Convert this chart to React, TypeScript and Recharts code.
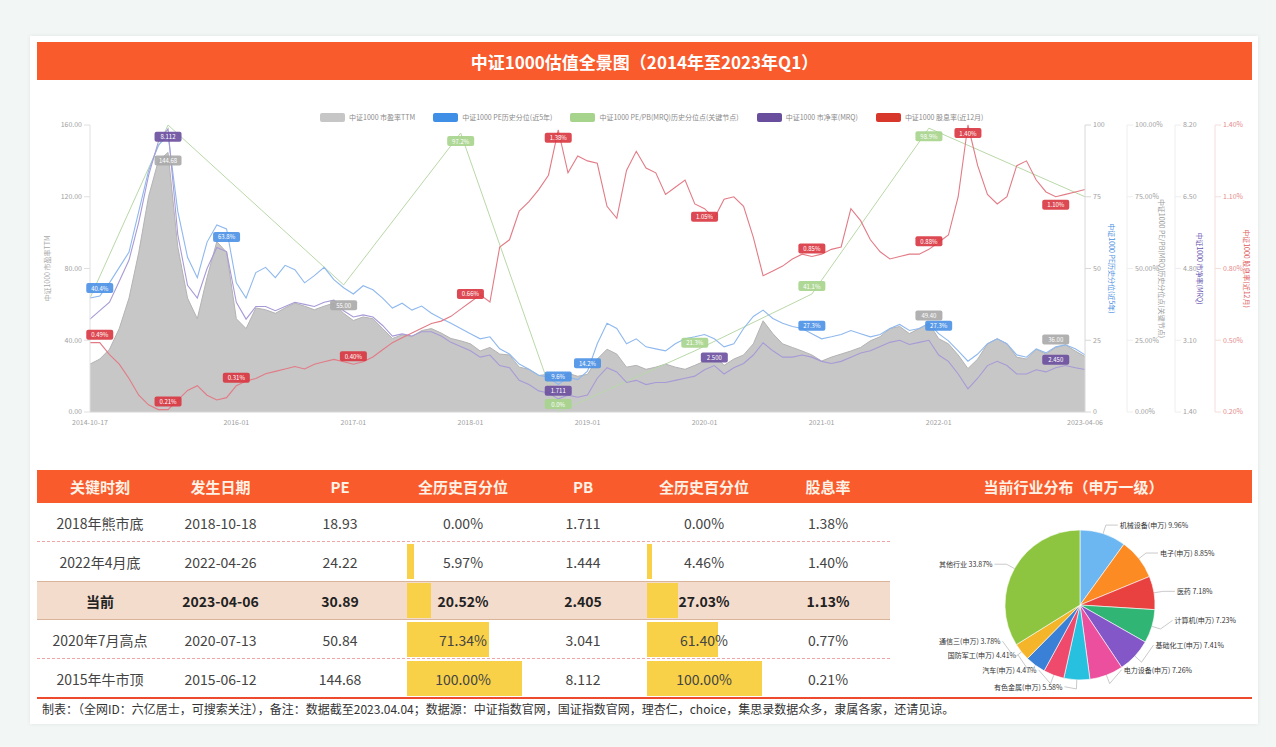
import React from "react";
import { Area, Cell, ComposedChart, Line, Pie, PieChart, XAxis, YAxis } from "recharts";

const FONT = '"Noto Sans CJK SC", "Noto Sans", sans-serif';
const ORANGE = "#f95b2c";

// monthly points from 2014-10 to 2023-04
const monthLabels = Array.from({ length: 103 }, (_, i) => {
  const t = 2014 * 12 + 9 + i;
  return `${Math.floor(t / 12)}-${String((t % 12) + 1).padStart(2, "0")}`;
});

const xTicks = [0, 15, 27, 39, 51, 63, 75, 87, 102];
const xTickLabels = ["2014-10-17", "2016-01", "2017-01", "2018-01", "2019-01", "2020-01", "2021-01", "2022-01", "2023-04-06"];

// 市盈率TTM
const peValues = [
  26.7, 29.5, 35.0, 46.5, 63.5, 89.0, 120.0, 140.0, 144.68, 92.0,
  63.5, 52.0, 75.0, 95.0, 89.0, 52.0, 46.5, 58.0, 57.0, 55.0,
  58.0, 60.7, 59.0, 57.0, 59.0, 60.7, 55.0, 51.0, 53.0, 52.0,
  46.5, 41.0, 43.0, 42.0, 45.4, 46.5, 44.0, 41.0, 39.7, 38.0,
  34.0, 36.0, 32.3, 31.8, 25.0, 23.8, 20.4, 21.0, 18.93, 21.6,
  19.9, 21.0, 29.5, 35.0, 32.3, 25.0, 26.0, 23.8, 25.0, 26.7,
  25.0, 23.8, 26.0, 28.4, 31.8, 26.0, 29.5, 31.8, 38.0, 50.84,
  43.7, 38.0, 36.0, 34.0, 31.8, 28.4, 30.6, 32.3, 34.0, 36.0,
  39.7, 42.0, 46.5, 47.7, 43.7, 46.5, 49.4, 40.9, 38.0, 31.8,
  24.22, 29.5, 38.0, 40.9, 38.0, 30.6, 29.5, 35.0, 32.3, 36.0,
  37.4, 34.0, 30.89,
];

// PE 历史分位 (%)
const pePctValues = [
  39.7, 40.4, 45.0, 50.4, 55.7, 69.9, 84.0, 92.9, 96.5, 69.9,
  53.9, 46.8, 59.2, 65.2, 63.8, 45.0, 39.7, 48.6, 50.4, 46.8,
  51.1, 49.6, 45.0, 47.5, 50.4, 46.1, 43.3, 41.1, 44.0, 42.6,
  39.7, 36.2, 37.9, 35.5, 36.9, 34.4, 32.6, 30.9, 29.1, 27.3,
  25.5, 26.2, 22.0, 20.2, 16.7, 14.9, 12.8, 12.1, 9.6, 12.1,
  11.3, 14.2, 23.8, 30.9, 29.1, 23.8, 25.5, 22.7, 22.0, 21.3,
  23.8, 25.5, 26.2, 27.0, 25.5, 22.7, 23.8, 29.1, 33.3, 35.5,
  32.6, 30.9, 29.8, 29.1, 27.3, 25.5, 26.2, 27.0, 28.4, 27.3,
  26.2, 27.0, 29.1, 30.5, 28.4, 29.1, 30.9, 27.3, 24.8, 21.3,
  17.7, 20.2, 23.8, 25.5, 23.8, 19.9, 19.1, 22.0, 20.6, 22.7,
  23.4, 22.0, 19.9,
];

// 市净率MRQ
const pbValues = [
  3.6, 3.8, 4.0, 4.5, 5.0, 5.9, 7.0, 7.8, 8.112, 5.6,
  4.4, 4.1, 4.8, 5.3, 5.2, 4.0, 3.6, 3.9, 3.9, 3.8,
  3.9, 4.0, 3.95, 3.9, 4.0, 4.05, 3.8, 3.65, 3.7, 3.65,
  3.45, 3.2, 3.25, 3.2, 3.3, 3.3, 3.2, 3.05, 2.95, 2.85,
  2.7, 2.75, 2.5, 2.45, 2.15, 2.05, 1.9, 1.85, 1.711, 1.8,
  1.75, 1.8, 2.2, 2.45, 2.35, 2.1, 2.15, 2.05, 2.1, 2.1,
  2.15, 2.2, 2.25, 2.4, 2.5, 2.3, 2.45, 2.55, 2.75, 3.041,
  2.85, 2.7, 2.7, 2.75, 2.7, 2.6, 2.55, 2.6, 2.7, 2.8,
  2.85, 2.95, 3.05, 3.1, 3.0, 3.05, 3.1, 2.75, 2.6, 2.3,
  1.95, 2.2, 2.5, 2.6, 2.5, 2.3, 2.3, 2.4, 2.35, 2.45,
  2.5, 2.45, 2.405,
];

// 股息率 (%)
const divValues = [
  0.49, 0.49, 0.44, 0.40, 0.34, 0.27, 0.23, 0.21, 0.21, 0.25,
  0.29, 0.31, 0.27, 0.25, 0.26, 0.31, 0.33, 0.34, 0.36, 0.37,
  0.38, 0.39, 0.38, 0.40, 0.41, 0.42, 0.41, 0.40, 0.41, 0.43,
  0.46, 0.49, 0.51, 0.53, 0.55, 0.57, 0.58, 0.60, 0.63, 0.66,
  0.69, 0.66, 0.89, 0.92, 1.04, 1.08, 1.13, 1.19, 1.38, 1.20,
  1.27, 1.25, 1.24, 1.06, 1.01, 1.21, 1.29, 1.22, 1.20, 1.11,
  1.14, 1.17, 1.07, 1.05, 1.01, 1.09, 1.10, 1.06, 0.93, 0.77,
  0.79, 0.81, 0.84, 0.86, 0.85, 0.86, 0.88, 0.89, 1.05, 1.00,
  0.92, 0.87, 0.84, 0.85, 0.86, 0.86, 0.88, 0.91, 0.94, 1.10,
  1.40, 1.23, 1.11, 1.07, 1.10, 1.23, 1.25, 1.17, 1.12, 1.10,
  1.11, 1.12, 1.13,
];

// 关键节点分位 (month index, %)
const nodePoints: Array<[number, number]> = [
  [0, 39.7], [8, 100], [26, 44.3], [38, 97.2], [48, 0], [62, 21.3], [74, 41.1], [86, 98.9], [102, 75.0],
];

const chartRows = peValues.map((pe, i) => {
  const node = nodePoints.find((p) => p[0] === i);
  return {
    i,
    month: monthLabels[i],
    pe,
    pePct: pePctValues[i],
    pb: pbValues[i],
    div: divValues[i],
    node: node ? node[1] : null,
  };
});
const nodeValues = chartRows.map((r) => r.node);

// table
const keyMoments = ["2018年熊市底", "2022年4月底", "当前", "2020年7月高点", "2015年牛市顶"];
const keyDates = ["2018-10-18", "2022-04-26", "2023-04-06", "2020-07-13", "2015-06-12"];
const keyPE = [18.93, 24.22, 30.89, 50.84, 144.68];
const keyPEPct = [0, 5.97, 20.52, 71.34, 100];
const keyPB = [1.711, 1.444, 2.405, 3.041, 8.112];
const keyPBPct = [0, 4.46, 27.03, 61.4, 100];
const keyDiv = [1.38, 1.4, 1.13, 0.77, 0.21];

// pie
const industryNames = [
  "机械设备(申万)", "电子(申万)", "医药", "计算机(申万)", "基础化工(申万)", "电力设备(申万)",
  "有色金属(申万)", "汽车(申万)", "国防军工(申万)", "通信三(申万)", "其他行业",
];
const industryShares = [9.96, 8.85, 7.18, 7.23, 7.41, 7.26, 5.58, 4.47, 4.41, 3.78, 33.87];
const industryColors = [
  "#6cb7f2", "#fb8b22", "#e8413f", "#31b574", "#8457c9", "#ec4f9e",
  "#27c0df", "#ef4a6b", "#3a80d6", "#f5b52a", "#8dc540",
];
const industryRows = industryNames.map((name, k) => ({ name, share: industryShares[k] }));

const legendItems = [
  { name: "中证1000 市盈率TTM", color: "#c6c6c6" },
  { name: "中证1000 PE历史分位(近5年)", color: "#3f8fe6" },
  { name: "中证1000 PE/PB(MRQ)历史分位点(关键节点)", color: "#a6d48c" },
  { name: "中证1000 市净率(MRQ)", color: "#6a4e9e" },
  { name: "中证1000 股息率(近12月)", color: "#d8382c" },
];

const tickStyle = { fontSize: 7, fill: "#a0a0a0" };

// value boxes on key points; near the top of the plot they go under the point
function boxLabel(color: string, keys: number[], values: Array<number | null>, fmt: (v: number) => string) {
  return (p: any) => {
    const v = values[p.index];
    if (!keys.includes(p.index) || v == null || p.x == null || p.y == null) return null;
    const w = 27;
    const h = 10;
    const top = p.y < 140 ? p.y + 3 : p.y - h - 3;
    return (
      <g key={`bl-${color}-${p.index}`}>
        <rect x={p.x - w / 2} y={top} width={w} height={h} rx={2} fill={color} opacity={0.9} />
        <text x={p.x} y={top + h / 2} textAnchor="middle" dominantBaseline="central" fontSize={6} fill="#fff">
          {fmt(v)}
        </text>
      </g>
    );
  };
}

function axisTitle(text: string, color: string, dx: number, angle: number) {
  return (p: any) => {
    const vb = p.viewBox || {};
    const cx = vb.x + dx;
    const cy = vb.y + vb.height / 2;
    return (
      <text x={cx} y={cy} transform={`rotate(${angle} ${cx} ${cy})`} textAnchor="middle" dominantBaseline="central" fontSize={7} fill={color}>
        {text}
      </text>
    );
  };
}

function ValuationChart() {
  return (
    <ComposedChart width={1228} height={330} data={chartRows} margin={{ top: 17, right: 0, bottom: 0, left: 0 }}>
      <XAxis
        dataKey="i"
        type="number"
        domain={[0, 102]}
        ticks={xTicks}
        interval={0}
        tickFormatter={(v) => xTickLabels[xTicks.indexOf(v)] ?? ""}
        height={26}
        tick={tickStyle}
        stroke="#d6d6d6"
        tickLine={false}
      />
      <YAxis
        yAxisId="pe"
        orientation="left"
        width={53}
        domain={[0, 160]}
        ticks={[0, 40, 80, 120, 160]}
        tickFormatter={(v) => v.toFixed(2)}
        tick={tickStyle}
        stroke="#e0e0e0"
        label={axisTitle("中证1000 市盈率TTM", "#a8a8a8", 10, -90)}
      />
      <YAxis
        yAxisId="a_pct"
        orientation="right"
        width={42}
        domain={[0, 100]}
        ticks={[0, 25, 50, 75, 100]}
        tick={tickStyle}
        stroke="#d8d8d8"
        label={axisTitle("中证1000 PE历史分位(近5年)", "#4a8fe0", 27, 90)}
      />
      <YAxis
        yAxisId="b_node"
        orientation="right"
        width={48}
        domain={[0, 100]}
        ticks={[0, 25, 50, 75, 100]}
        tickFormatter={(v) => `${v.toFixed(2)}%`}
        tick={tickStyle}
        stroke="#eeeeee"
        label={axisTitle("中证1000 PE/PB(MRQ)历史分位点(关键节点)", "#9a9a9a", 35, 90)}
      />
      <YAxis
        yAxisId="c_pb"
        orientation="right"
        width={40}
        domain={[1.4, 8.2]}
        ticks={[1.4, 3.1, 4.8, 6.5, 8.2]}
        tickFormatter={(v) => v.toFixed(2)}
        tick={tickStyle}
        stroke="#eeeeee"
        label={axisTitle("中证1000 市净率(MRQ)", "#6a56b0", 25, 90)}
      />
      <YAxis
        yAxisId="d_div"
        orientation="right"
        width={50}
        domain={[0.2, 1.4]}
        ticks={[0.2, 0.5, 0.8, 1.1, 1.4]}
        tickFormatter={(v) => `${v.toFixed(2)}%`}
        tick={{ fontSize: 7, fill: "#e58a8a" }}
        stroke="#f3dede"
        label={axisTitle("中证1000 股息率(近12月)", "#e06060", 32, 90)}
      />
      <Area
        yAxisId="pe"
        type="linear"
        dataKey="pe"
        fill="#c4c4c4"
        fillOpacity={0.95}
        stroke="#b3b3b3"
        strokeWidth={1}
        isAnimationActive={false}
        label={boxLabel("#a9a9a9", [8, 26, 86, 99], peValues, (v) => v.toFixed(2))}
      />
      <Line
        yAxisId="b_node"
        type="linear"
        dataKey="node"
        connectNulls
        stroke="#b9d8a8"
        strokeWidth={1}
        dot={false}
        isAnimationActive={false}
        label={boxLabel("#a6d48c", [38, 48, 62, 74, 86], nodeValues, (v) => `${v.toFixed(1)}%`)}
      />
      <Line
        yAxisId="a_pct"
        type="linear"
        dataKey="pePct"
        stroke="#8fb8ee"
        strokeWidth={1.1}
        dot={false}
        isAnimationActive={false}
        label={boxLabel("#4a90e6", [1, 14, 48, 51, 74, 87], pePctValues, (v) => `${v.toFixed(1)}%`)}
      />
      <Line
        yAxisId="c_pb"
        type="linear"
        dataKey="pb"
        stroke="#a89ad6"
        strokeWidth={1.1}
        dot={false}
        isAnimationActive={false}
        label={boxLabel("#6a4e9e", [8, 48, 64, 99], pbValues, (v) => v.toFixed(3))}
      />
      <Line
        yAxisId="d_div"
        type="linear"
        dataKey="div"
        stroke="#e27b86"
        strokeWidth={1.1}
        dot={false}
        isAnimationActive={false}
        label={boxLabel("#d9353f", [1, 8, 15, 27, 39, 48, 63, 74, 86, 90, 99], divValues, (v) => `${v.toFixed(2)}%`)}
      />
    </ComposedChart>
  );
}

// leader line + text from the slice's mid angle; lower-half labels are spread vertically
function renderPieLabel(p: any) {
  const rad = Math.PI / 180;
  const c = Math.cos(-p.midAngle * rad);
  const s = Math.sin(-p.midAngle * rad);
  const r = p.outerRadius + 9;
  const x1 = p.cx + p.outerRadius * c;
  const y1 = p.cy + p.outerRadius * s;
  const x2 = p.cx + r * c;
  const y2 = p.cy + r * s;
  const yT = s > 0 ? p.cy + r * (1 - Math.acos(Math.min(1, s)) / (Math.PI / 2)) : y2;
  const right = c >= 0;
  const x3 = x2 + (right ? 12 : -12);
  return (
    <g key={`pl-${p.index}`}>
      <polyline points={`${x1},${y1} ${x2},${y2} ${x3},${yT}`} fill="none" stroke="#bdbdbd" strokeWidth={0.8} />
      <text x={x3 + (right ? 2 : -2)} y={yT} textAnchor={right ? "start" : "end"} dominantBaseline="central" fontSize={7} fill="#333">
        {`${p.name} ${p.value.toFixed(2)}%`}
      </text>
    </g>
  );
}

function IndustryPie() {
  return (
    <PieChart width={355} height={194}>
      <Pie
        data={industryRows}
        dataKey="share"
        nameKey="name"
        cx={175}
        cy={97}
        outerRadius={75}
        startAngle={90}
        endAngle={-270}
        stroke="#fff"
        strokeWidth={0.6}
        isAnimationActive={false}
        label={renderPieLabel}
        labelLine={false}
      >
        {industryRows.map((r, k) => (
          <Cell key={r.name} fill={industryColors[k]} />
        ))}
      </Pie>
    </PieChart>
  );
}

const colLefts = [37, 163, 278, 402, 524, 642, 766];
const colWidths = [126, 115, 124, 122, 118, 124, 124];
const headers = ["关键时刻", "发生日期", "PE", "全历史百分位", "PB", "全历史百分位", "股息率"];
const ROW_TOP = 503;
const ROW_H = 39;

function Table() {
  const cells: React.ReactNode[] = [];
  keyMoments.forEach((moment, r) => {
    const top = ROW_TOP + r * ROW_H;
    const current = r === 2;
    const texts = [
      moment,
      keyDates[r],
      keyPE[r].toFixed(2),
      `${keyPEPct[r].toFixed(2)}%`,
      keyPB[r].toFixed(3),
      `${keyPBPct[r].toFixed(2)}%`,
      `${keyDiv[r].toFixed(2)}%`,
    ];
    if (current) {
      cells.push(
        <div key={`bg${r}`} style={{ position: "absolute", left: 37, top, width: 853, height: ROW_H, background: "#f4dccd", borderTop: "1px solid #d9b49a", borderBottom: "1px solid #d9b49a", boxSizing: "border-box" }} />
      );
    } else if (r === 0 || r === 3) {
      cells.push(
        <div key={`ln${r}`} style={{ position: "absolute", left: 37, top: top + ROW_H - 1, width: 853, height: 0, borderTop: "1px dashed #f0a6a6" }} />
      );
    }
    [keyPEPct[r], keyPBPct[r]].forEach((pct, b) => {
      const c = b === 0 ? 3 : 5;
      cells.push(
        <div key={`bar${r}-${b}`} style={{ position: "absolute", left: colLefts[c] + 5, top: top + 2, width: (115 * pct) / 100, height: ROW_H - 4, background: "#f8d148" }} />
      );
    });
    texts.forEach((t, c) => {
      cells.push(
        <div
          key={`t${r}-${c}`}
          style={{
            position: "absolute",
            left: colLefts[c],
            top,
            width: colWidths[c],
            height: ROW_H,
            display: "flex",
            alignItems: "center",
            justifyContent: "center",
            fontSize: 14,
            fontWeight: current ? 700 : 400,
            color: current ? "#222" : "#444",
          }}
        >
          {t}
        </div>
      );
    });
  });
  return (
    <>
      <div style={{ position: "absolute", left: 37, top: 470, width: 1215, height: 33, background: ORANGE }} />
      {headers.map((h, c) => (
        <div
          key={h + c}
          style={{ position: "absolute", left: colLefts[c], top: 470, width: colWidths[c], height: 33, display: "flex", alignItems: "center", justifyContent: "center", color: "#fff2e6", fontSize: 15, fontWeight: 700 }}
        >
          {h}
        </div>
      ))}
      <div style={{ position: "absolute", left: 895, top: 470, width: 357, height: 33, display: "flex", alignItems: "center", justifyContent: "center", color: "#fff2e6", fontSize: 15, fontWeight: 700 }}>
        当前行业分布（申万一级）
      </div>
      {cells}
    </>
  );
}

export default function App() {
  return (
    <div style={{ position: "fixed", left: 0, top: 0, width: 1276, height: 747, background: "#f2f6f5", fontFamily: FONT, overflow: "hidden" }}>
      <div style={{ position: "absolute", left: 30, top: 36, width: 1228, height: 688, background: "#fff", boxShadow: "0 0 4px rgba(0,0,0,0.08)" }} />
      <div
        style={{ position: "absolute", left: 37, top: 42, width: 1215, height: 38, background: ORANGE, color: "#fff", fontSize: 17, fontWeight: 700, display: "flex", alignItems: "center", justifyContent: "center" }}
      >
        中证1000估值全景图（2014年至2023年Q1）
      </div>
      <div style={{ position: "absolute", left: 320, top: 112, display: "flex", alignItems: "center", gap: 18 }}>
        {legendItems.map((it) => (
          <div key={it.name} style={{ display: "flex", alignItems: "center", gap: 4 }}>
            <div style={{ width: 25, height: 9, borderRadius: 2, background: it.color }} />
            <span style={{ fontSize: 7, color: "#8a8a8a" }}>{it.name}</span>
          </div>
        ))}
      </div>
      <div style={{ position: "absolute", left: 37, top: 108 }}>
        <ValuationChart />
      </div>
      <Table />
      <div style={{ position: "absolute", left: 900, top: 503 }}>
        <IndustryPie />
      </div>
      <div style={{ position: "absolute", left: 37, top: 697, width: 1215, height: 2, background: "#ee4a2e" }} />
      <div style={{ position: "absolute", left: 42, top: 699, height: 18, display: "flex", alignItems: "center", fontSize: 12, color: "#333", whiteSpace: "nowrap" }}>
        制表：（全网ID：六亿居士，可搜索关注），备注：数据截至2023.04.04；数据源：中证指数官网，国证指数官网，理杏仁，choice，集思录数据众多，隶属各家，还请见谅。
      </div>
    </div>
  );
}
